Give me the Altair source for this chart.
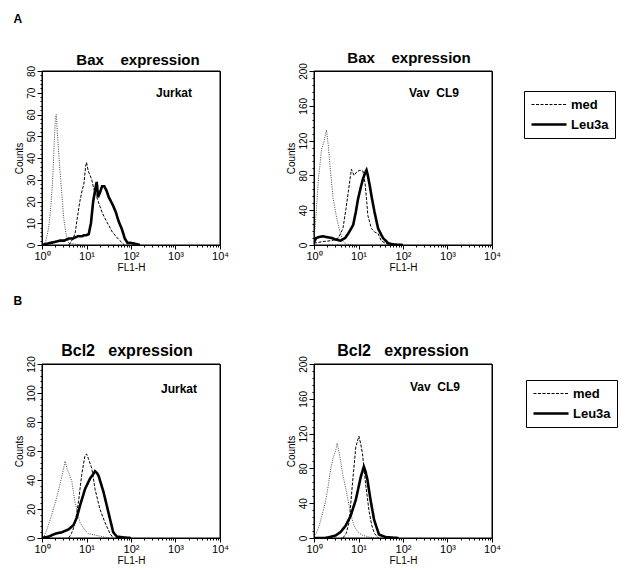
import altair as alt
import pandas as pd

FONT = "Liberation Sans"

# ---------------- data ----------------
# x values are log10(FL1-H), y values are counts

# Panel A, Jurkat (Bax)
A1_iso_x = [0.05, 0.1, 0.15, 0.2, 0.24, 0.27, 0.3, 0.32, 0.35, 0.39, 0.44, 0.49, 0.54, 0.6, 0.7, 0.9]
A1_iso_y = [0, 3, 8, 18, 30, 45, 58, 60, 50, 38, 25, 12, 5, 1, 0.5, 0]
A1_med_x = [0.6, 0.7, 0.75, 0.79, 0.85, 0.9, 0.94, 0.98, 1.0, 1.04, 1.08, 1.12, 1.16, 1.2, 1.28, 1.35, 1.42, 1.5, 1.58, 1.66, 1.75, 1.85]
A1_med_y = [0, 3, 6, 12, 20, 25, 28, 36, 38, 34, 32, 30, 26, 24, 19, 15, 12, 9, 6, 4, 2, 0]
A1_leu_x = [0.0, 0.1, 0.2, 0.3, 0.4, 0.5, 0.6, 0.7, 0.8, 0.9, 0.94, 1.0, 1.05, 1.1, 1.15, 1.2, 1.23, 1.26, 1.3, 1.35, 1.4, 1.45, 1.5, 1.55, 1.6, 1.66, 1.72, 1.8, 1.86, 1.92, 2.0, 2.1, 2.2]
A1_leu_y = [0, 0.5, 1, 1.5, 2, 2, 3, 3, 4, 4, 4.5, 4.5, 5, 10, 20, 26, 29, 22, 24, 27, 27, 25, 22, 20, 18, 15, 11, 7, 3, 1, 1, 0.5, 0]

# Panel A, Vav CL9 (Bax)
A2_iso_x = [0.0, 0.04, 0.1, 0.17, 0.22, 0.28, 0.32, 0.36, 0.43, 0.51, 0.58, 0.65, 0.72, 0.9]
A2_iso_y = [5, 30, 76, 110, 118, 132, 115, 91, 53, 31, 16, 4, 1, 0]
A2_med_x = [0.0, 0.2, 0.4, 0.55, 0.65, 0.72, 0.77, 0.84, 0.9, 0.96, 1.03, 1.1, 1.15, 1.18, 1.21, 1.29, 1.36, 1.44, 1.51, 1.6, 1.75]
A2_med_y = [2, 4, 5, 8, 19, 42, 61, 87, 80, 84, 86, 85, 70, 53, 34, 19, 15, 13, 5, 2, 0]
A2_leu_x = [0.0, 0.05, 0.1, 0.2, 0.3, 0.4, 0.5, 0.6, 0.7, 0.78, 0.88, 0.94, 0.99, 1.05, 1.1, 1.15, 1.18, 1.21, 1.25, 1.3, 1.36, 1.44, 1.55, 1.67, 1.8, 2.0]
A2_leu_y = [3, 8, 9, 10, 9, 8, 6, 5, 8, 14, 23, 38, 53, 66, 76, 83, 86, 80, 69, 54, 38, 19, 8, 2, 0.5, 0]

# Panel B, Jurkat (Bcl2)
B1_iso_x = [0.03, 0.1, 0.22, 0.34, 0.45, 0.52, 0.56, 0.6, 0.67, 0.74, 0.85, 0.95, 1.04, 1.2, 1.34, 1.5]
B1_iso_y = [0, 5, 16, 29, 43, 53, 48, 45, 39, 25, 11, 6, 3, 2, 1, 0]
B1_med_x = [0.6, 0.66, 0.71, 0.77, 0.82, 0.89, 0.96, 1.0, 1.04, 1.12, 1.19, 1.3, 1.41, 1.53, 1.6]
B1_med_y = [0, 3, 7, 15, 25, 43, 56, 58, 55, 48, 34, 20, 11, 3, 0]
B1_leu_x = [0.0, 0.15, 0.3, 0.45, 0.6, 0.71, 0.78, 0.86, 0.97, 1.08, 1.15, 1.19, 1.23, 1.27, 1.38, 1.49, 1.6, 1.68, 1.8, 2.0]
B1_leu_y = [0, 1, 3, 4, 6, 9, 14, 23, 34, 41, 44, 46, 45, 43, 32, 18, 4, 1, 0.5, 0]

# Panel B, Vav CL9 (Bcl2)
B2_iso_x = [0.0, 0.05, 0.12, 0.2, 0.26, 0.32, 0.37, 0.43, 0.49, 0.52, 0.56, 0.6, 0.65, 0.71, 0.77, 0.84, 0.9, 1.0, 1.1, 1.25, 1.4]
B2_iso_y = [2, 5, 15, 30, 42, 60, 78, 92, 101, 109, 100, 88, 72, 58, 42, 25, 14, 6, 3, 1, 0]
B2_med_x = [0.65, 0.72, 0.79, 0.86, 0.94, 1.01, 1.05, 1.09, 1.16, 1.24, 1.3, 1.36, 1.45]
B2_med_y = [0, 5, 18, 60, 105, 117, 108, 97, 62, 30, 14, 5, 0]
B2_leu_x = [0.0, 0.25, 0.35, 0.49, 0.6, 0.71, 0.82, 0.94, 1.05, 1.12, 1.16, 1.2, 1.27, 1.35, 1.46, 1.61, 1.75, 1.9]
B2_leu_y = [0, 0, 1, 3, 7, 14, 25, 44, 70, 82, 76, 67, 44, 21, 4, 1, 0.5, 0]

X_TICKS = [k * 10 ** d for d in range(4) for k in range(1, 10)] + [10000]
SERIES = ["med", "Leu3a"]
PW, PH = 178, 174


def frame(curves):
    rows = []
    for name, xs, ys in curves:
        for x, y in zip(xs, ys):
            rows.append({"series": name, "fl": 10 ** x, "count": y})
    return pd.DataFrame(rows)


def panel(title, tsize, tdx, label, curves, ymax, ymajor, yminor, lx, ly, legend_xy=None):
    df = frame(curves)
    x_axis = alt.Axis(
        values=X_TICKS, title="FL1-H", grid=False, labelOverlap=False, labelFlush=False,
        labelExpr=("datum.value == 1 ? '10\u2070' : datum.value == 10 ? '10\u00b9' : "
                   "datum.value == 100 ? '10\u00b2' : datum.value == 1000 ? '10\u00b3' : "
                   "datum.value == 10000 ? '10\u2074' : ''"),
        tickSize={"condition": {"test": "indexof([1,10,100,1000,10000], datum.value) >= 0", "value": 4}, "value": 2},
        labelPadding=1, titlePadding=1, labelFontSize=11,
    )
    y_axis = alt.Axis(
        values=list(range(0, ymax + 1, yminor)), title="Counts", grid=False, labelOverlap=False,
        labelFlush=False, labelAngle=270,
        labelExpr=f"datum.value % {ymajor} == 0 ? datum.label : ''",
        tickSize={"condition": {"test": f"datum.value % {ymajor} == 0", "value": 5}, "value": 2},
        labelPadding=1, titlePadding=3, minExtent=15, maxExtent=15,
    )
    base = alt.Chart(df).encode(
        x=alt.X("fl:Q", scale=alt.Scale(type="log", domain=[1, 10000], nice=False), axis=x_axis),
        y=alt.Y("count:Q", scale=alt.Scale(domain=[0, ymax], nice=False), axis=y_axis),
    )
    iso = base.transform_filter(alt.datum.series == "iso").mark_line(
        strokeDash=[1, 1.3], strokeWidth=0.9, color="#333", clip=True
    )
    if legend_xy is not None:
        leg = alt.Legend(
            orient="none", legendX=legend_xy[0], legendY=legend_xy[1], title=None,
            strokeColor="black", padding=6, symbolType="M-1,0H4", symbolSize=196,
            labelFont=FONT, labelFontSize=13, labelFontWeight="bold", labelColor="black",
            rowPadding=4, symbolStrokeColor="black", labelOffset=24, symbolFillColor="transparent",
        )
    else:
        leg = None
    main = base.transform_filter(alt.datum.series != "iso").mark_line(
        color="black", clip=True
    ).encode(
        strokeDash=alt.StrokeDash("series:N", scale=alt.Scale(domain=SERIES, range=[[3, 1.5], [1, 0]]), legend=leg),
        strokeWidth=alt.StrokeWidth("series:N", scale=alt.Scale(domain=SERIES, range=[1, 2.6]), legend=leg),
    )
    txt = alt.Chart(pd.DataFrame({"t": [label]})).mark_text(
        font=FONT, fontSize=12, fontWeight="bold", color="black"
    ).encode(x=alt.value(lx), y=alt.value(ly), text="t:N")
    box = alt.Chart(pd.DataFrame({"b": [0]})).mark_rect(
        filled=False, stroke="black", strokeWidth=1
    ).encode(x=alt.value(0), x2=alt.value(PW), y=alt.value(0), y2=alt.value(PH))
    return alt.layer(box, iso, main, txt).properties(
        width=PW, height=PH,
        title=alt.Title(title, fontSize=tsize, fontWeight="bold", font=FONT, offset=-3, dx=tdx, color="black"),
    )


BAX = "Bax" + "\u00a0" * 4 + "expression"
BCL = "Bcl2" + "\u00a0" * 3 + "expression"

A1 = panel(BAX, 15, 7, "Jurkat",
           [("iso", A1_iso_x, A1_iso_y), ("med", A1_med_x, A1_med_y), ("Leu3a", A1_leu_x, A1_leu_y)],
           80, 10, 2, 132, 22)
A2 = panel(BAX, 15, 6, "Vav\u00a0\u00a0CL9",
           [("iso", A2_iso_x, A2_iso_y), ("med", A2_med_x, A2_med_y), ("Leu3a", A2_leu_x, A2_leu_y)],
           200, 40, 8, 120, 22, legend_xy=(210, 20))
B1 = panel(BCL, 16, -4, "Jurkat",
           [("iso", B1_iso_x, B1_iso_y), ("med", B1_med_x, B1_med_y), ("Leu3a", B1_leu_x, B1_leu_y)],
           120, 20, 4, 137, 25)
B2 = panel(BCL, 16, 0, "Vav\u00a0\u00a0CL9",
           [("iso", B2_iso_x, B2_iso_y), ("med", B2_med_x, B2_med_y), ("Leu3a", B2_leu_x, B2_leu_y)],
           200, 40, 8, 121, 23, legend_xy=(212, 16))

rowA = alt.hconcat(A1, A2, spacing=56).resolve_scale(strokeDash="independent", strokeWidth="independent").properties(
    title=alt.Title("A", anchor="start", fontSize=12, fontWeight="bold", font=FONT, offset=24, color="black"))
rowB = alt.hconcat(B1, B2, spacing=56).resolve_scale(strokeDash="independent", strokeWidth="independent").properties(
    title=alt.Title("B", anchor="start", fontSize=12, fontWeight="bold", font=FONT, offset=34, color="black"))

chart = alt.vconcat(rowA, rowB, spacing=22).resolve_scale(
    strokeDash="independent", strokeWidth="independent"
).properties(
    padding={"left": 5, "top": 5, "right": 0, "bottom": 0}, background="white"
).configure_view(stroke="black", strokeWidth=1).configure_axis(
    domainColor="black", tickColor="black", labelColor="black", titleColor="black",
    labelFont=FONT, titleFont=FONT, labelFontSize=10, titleFontSize=10, titleFontWeight="normal",
)

chart.save("out.html", embed_options={"renderer": "svg", "actions": False})
